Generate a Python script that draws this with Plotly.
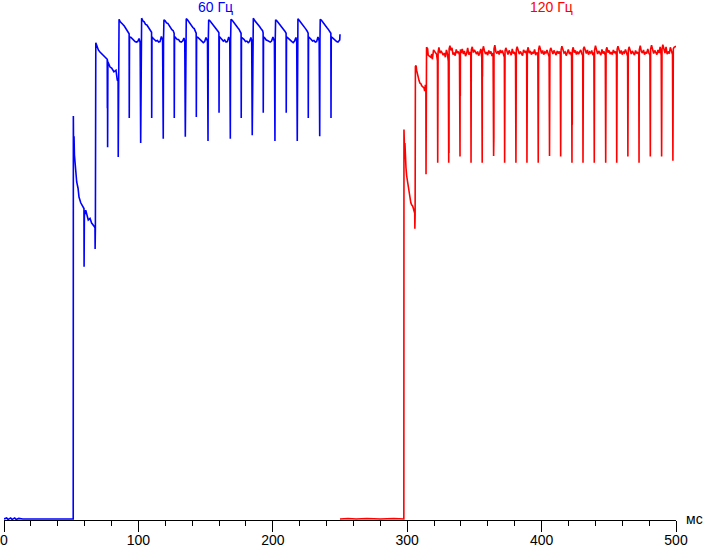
import plotly.graph_objects as go

# brightness (relative units, 0-100) vs time in ms
blue_ms = [
    0, 2, 3, 5, 6, 8, 9, 11, 14, 20, 30, 40, 51.5,
    51.6, 51.8, 52.1, 52.4, 53.3, 54.1, 55.1, 55.8, 57.1, 58.6, 59.5, 59.6, 59.8, 60.8, 62.7, 64.0, 65.2, 67.0, 67.7, 67.8, 68.0,
    68.3, 69.0, 70.2, 71.4, 73.0, 73.9, 75.7, 76.8, 76.9, 77.0, 77.1, 77.3, 78.9, 80.1, 81.8, 83.3, 84.3, 84.9, 85.0, 85.3,
    85.6, 86.5, 87.5, 88.5, 89.5, 90.5, 91.5, 92.5, 93.1, 93.2, 93.4, 94.5, 95.5, 96.5, 97.5, 98.5, 99.5, 100.5, 101.3, 101.7, 102.0,
    102.4, 103.3, 104.3, 105.3, 106.3, 107.3, 108.3, 109.3, 109.8, 109.9, 110.1, 111.1, 112.1, 113.1, 114.1, 115.1, 116.1, 117.1, 118.0, 118.5, 118.7,
    119.0, 119.9, 120.9, 121.9, 122.9, 123.9, 124.9, 125.9, 126.6, 126.7, 126.9, 127.9, 128.9, 129.9, 130.9, 131.9, 132.9, 133.9, 134.5, 134.9, 135.2,
    135.6, 136.5, 137.5, 138.5, 139.5, 140.5, 141.5, 142.5, 143.0, 143.1, 143.3, 144.3, 145.3, 146.3, 147.3, 148.3, 149.3, 150.3, 151.4, 151.8, 152.0,
    152.3, 153.2, 154.2, 155.2, 156.2, 157.2, 158.2, 159.2, 159.9, 160.0, 160.2, 161.2, 162.2, 163.2, 164.2, 165.2, 166.2, 167.2, 168.0, 168.4, 168.6,
    168.9, 169.8, 170.8, 171.8, 172.8, 173.8, 174.8, 175.8, 176.4, 176.5, 176.7, 177.7, 178.7, 179.7, 180.7, 181.7, 182.7, 183.7, 184.3, 184.7, 185.0,
    185.5, 186.4, 187.4, 188.4, 189.4, 190.4, 191.4, 192.4, 192.8, 192.9, 193.1, 194.1, 195.1, 196.1, 197.1, 198.1, 199.1, 200.1, 201.2, 201.6, 201.8,
    202.1, 203.0, 204.0, 205.0, 206.0, 207.0, 208.0, 209.0, 209.9, 210.0, 210.2, 211.2, 212.2, 213.2, 214.2, 215.2, 216.2, 217.2, 217.8, 218.2, 218.4,
    218.7, 219.6, 220.6, 221.6, 222.6, 223.6, 224.6, 225.6, 226.3, 226.4, 226.6, 227.6, 228.6, 229.6, 230.6, 231.6, 232.6, 233.6, 234.5, 234.9, 235.1,
    235.3, 236.2, 237.2, 238.2, 239.2, 240.2, 241.2, 242.2, 243.2, 243.3, 243.5, 244.5, 245.5, 246.5, 247.5, 248.5, 249.5, 249.8, 250.0,
]
blue_level = [
    0.2, 0.4, 0.1, 0.4, 0.1, 0.4, 0.1, 0.3, 0.2, 0.2, 0.2, 0.3, 0.2,
    77.7, 70.2, 73.8, 70.2, 66.9, 65.0, 63.8, 62.1, 61.0, 60.2, 59.9, 48.7, 58.5, 59.6, 57.7, 58.0, 57.1, 56.5, 56.2, 52.1, 56.0,
    91.8, 91.3, 90.4, 90.0, 89.6, 89.4, 88.8, 88.6, 79.2, 88.5, 71.7, 88.1, 87.1, 86.9, 86.2, 86.5, 84.6, 84.4, 69.8, 84.0,
    96.3, 95.8, 95.6, 95.3, 95.0, 94.6, 94.2, 93.8, 93.5, 77.3, 92.9, 92.8, 92.5, 92.3, 92.0, 91.9, 92.0, 92.6, 91.8, 72.5, 92.0,
    96.5, 96.0, 95.8, 95.3, 95.2, 94.8, 94.4, 94.1, 93.8, 77.3, 92.9, 92.6, 92.4, 92.1, 92.2, 91.9, 92.0, 93.0, 92.3, 73.3, 92.3,
    96.2, 96.0, 95.6, 95.5, 95.0, 94.8, 94.3, 94.1, 93.6, 77.3, 93.0, 92.7, 92.4, 92.4, 92.0, 91.9, 92.1, 92.7, 92.0, 73.7, 92.1,
    96.4, 96.2, 95.8, 95.4, 95.1, 94.7, 94.5, 94.0, 93.6, 77.5, 92.9, 92.8, 92.5, 92.2, 92.1, 91.8, 92.0, 92.8, 92.1, 72.9, 92.2,
    96.2, 96.0, 95.7, 95.4, 95.0, 94.6, 94.3, 94.0, 93.7, 78.3, 93.0, 92.7, 92.4, 92.1, 92.3, 91.9, 92.0, 92.9, 92.2, 73.3, 92.3,
    96.3, 96.1, 95.7, 95.5, 95.0, 94.7, 94.4, 94.0, 93.6, 77.3, 92.8, 92.6, 92.4, 92.0, 92.1, 91.8, 92.0, 92.8, 92.2, 74.0, 92.1,
    96.5, 96.1, 95.8, 95.6, 95.1, 94.8, 94.4, 94.1, 93.7, 78.3, 92.9, 92.7, 92.3, 92.2, 92.0, 91.9, 92.1, 92.9, 92.0, 72.9, 92.2,
    96.2, 96.0, 95.7, 95.4, 95.0, 94.7, 94.3, 94.0, 93.6, 78.3, 92.9, 92.7, 92.4, 92.2, 92.0, 91.8, 92.1, 92.8, 92.0, 72.9, 92.2,
    96.4, 96.1, 95.8, 95.5, 95.1, 94.8, 94.4, 94.0, 93.6, 77.3, 92.9, 92.7, 92.4, 92.1, 92.2, 91.9, 92.0, 92.9, 92.1, 73.8, 92.2,
    96.3, 96.1, 95.7, 95.4, 95.1, 94.7, 94.4, 94.0, 93.6, 77.3, 92.9, 92.7, 92.4, 92.2, 92.0, 91.9, 92.1, 92.3, 93.4,
]

red_ms = [
    250, 256, 262, 270, 280, 290, 297.5,
    297.6, 297.9, 298.3, 298.6, 299.1, 299.6, 300.1, 300.6, 301.1, 301.6, 302.1, 302.7, 303.3, 304.0, 304.5, 305.2, 305.6, 305.7, 305.9,
    306.1, 306.6, 307.0, 307.6, 308.2, 308.8, 309.5, 310.2, 310.8, 311.6, 312.5, 313.0, 313.5, 313.9, 314.0, 314.2,
    314.4, 315.2, 315.6, 316.5, 317.5, 318.3, 318.7, 319.6, 320.3, 321.0, 321.8, 322.5, 322.7, 322.8, 322.9, 323.0,
    323.6, 324.4, 325.2, 326.0, 326.8, 327.6, 328.4, 329.2, 329.9, 330.6, 330.9, 331.0, 331.1, 331.2,
    331.8, 332.5, 333.3, 334.1, 334.9, 335.7, 336.5, 337.3, 338.1, 338.9, 339.3, 339.4, 339.5, 339.6,
    340.2, 341.0, 341.8, 342.6, 343.4, 344.2, 345.0, 345.8, 346.6, 347.3, 347.5, 347.7,
    348.4, 349.2, 350.0, 350.8, 351.6, 352.4, 353.2, 354.0, 354.8, 355.5, 355.8, 355.9, 356.0, 356.1,
    356.7, 357.5, 358.3, 359.1, 359.9, 360.7, 361.5, 362.3, 363.1, 363.9, 364.3, 364.4, 364.5, 364.6,
    365.2, 366.0, 366.8, 367.6, 368.4, 369.2, 370.0, 370.8, 371.6, 372.3, 372.5, 372.6, 372.7, 372.8,
    373.4, 374.2, 375.0, 375.8, 376.6, 377.4, 378.2, 379.0, 379.8, 380.6, 380.9, 381.0, 381.1, 381.2,
    381.8, 382.6, 383.4, 384.2, 385.0, 385.8, 386.6, 387.4, 388.2, 388.9, 389.1, 389.2, 389.3, 389.4,
    390.0, 390.8, 391.6, 392.4, 393.2, 394.0, 394.8, 395.6, 396.4, 397.2, 397.5, 397.6, 397.7, 397.8,
    398.4, 399.2, 400.0, 400.8, 401.6, 402.4, 403.2, 404.0, 404.8, 405.6, 405.9, 406.0, 406.1, 406.2,
    406.8, 407.6, 408.4, 409.2, 410.0, 410.8, 411.6, 412.4, 413.2, 413.9, 414.2, 414.3, 414.4, 414.5,
    415.1, 415.9, 416.7, 417.5, 418.3, 419.1, 419.9, 420.7, 421.5, 422.3, 422.6, 422.7, 422.8, 422.9,
    423.5, 424.3, 425.1, 425.9, 426.7, 427.5, 428.3, 429.1, 429.9, 430.6, 430.8, 430.9, 431.0, 431.1,
    431.7, 432.5, 433.3, 434.1, 434.9, 435.7, 436.5, 437.3, 438.1, 438.9, 439.2, 439.4,
    440.1, 440.9, 441.7, 442.5, 443.3, 444.1, 444.9, 445.7, 446.5, 447.4, 447.7, 447.8, 447.9, 448.0,
    448.6, 449.4, 450.2, 451.0, 451.8, 452.6, 453.4, 454.2, 455.0, 455.7, 455.9, 456.0, 456.1, 456.2,
    456.8, 457.6, 458.4, 459.2, 460.0, 460.8, 461.6, 462.4, 463.2, 464.0, 464.2, 464.3, 464.4, 464.5,
    465.1, 465.9, 466.7, 467.5, 468.3, 469.1, 469.9, 470.7, 471.5, 472.3, 472.5, 472.7,
    473.4, 474.2, 475.0, 475.8, 476.6, 477.4, 478.2, 479.0, 479.8, 480.6, 480.9, 481.1,
    481.8, 482.6, 483.4, 484.2, 485.0, 485.8, 486.6, 487.4, 488.2, 489.0, 489.3, 489.4, 489.5, 489.6,
    490.2, 491.0, 491.8, 492.6, 493.4, 494.2, 495.0, 495.8, 496.6, 497.4, 497.7, 497.8, 497.9, 498.0,
    498.6, 499.3, 500.0,
]
red_level = [
    0.2, 0.3, 0.2, 0.3, 0.2, 0.3, 0.2,
    75.1, 72.1, 72.5, 68.5, 67.7, 66.2, 65.4, 64.6, 63.5, 62.3, 61.5, 61.0, 60.6, 60.4, 60.0, 59.4, 59.0, 56.0, 58.8,
    87.2, 87.4, 86.5, 85.8, 84.6, 84.5, 84.0, 83.9, 83.5, 83.2, 83.1, 82.5, 83.7, 82.8, 66.5, 82.8,
    90.9, 90.6, 89.4, 89.2, 89.0, 89.6, 88.6, 90.4, 90.2, 89.8, 89.6, 88.3, 68.7, 89.5, 79.5, 90.0,
    90.9, 89.8, 90.2, 89.6, 89.4, 89.8, 89.0, 90.4, 89.7, 88.2, 68.7, 89.6, 70.6, 90.6,
    91.2, 90.3, 90.8, 89.5, 89.9, 89.3, 90.5, 89.8, 90.1, 89.4, 69.9, 89.8, 81.6, 90.5,
    89.8, 90.6, 89.6, 90.2, 89.2, 89.7, 90.8, 89.5, 90.0, 89.3, 68.7, 90.4,
    91.0, 89.9, 90.4, 89.8, 89.6, 90.1, 89.3, 89.9, 90.6, 88.9, 68.7, 89.7, 85.3, 90.3,
    91.1, 90.2, 89.6, 90.0, 89.4, 90.3, 89.7, 90.1, 89.2, 89.8, 70.0, 89.6, 73.7, 90.6,
    91.3, 90.0, 89.7, 90.2, 89.5, 90.4, 89.8, 90.3, 89.6, 89.0, 68.7, 89.5, 70.2, 90.2,
    90.8, 90.1, 89.5, 90.3, 89.9, 89.4, 90.6, 89.7, 90.0, 89.2, 68.7, 89.6, 79.0, 90.4,
    91.0, 90.3, 89.6, 90.1, 89.8, 89.3, 90.4, 89.9, 90.2, 89.5, 68.7, 89.7, 87.2, 90.3,
    90.9, 89.8, 90.2, 89.5, 90.0, 89.7, 90.5, 89.4, 89.9, 89.6, 68.7, 89.5, 87.2, 90.5,
    91.2, 90.1, 89.7, 90.3, 89.5, 90.0, 89.8, 90.4, 89.6, 89.1, 70.0, 89.6, 76.3, 90.2,
    90.8, 90.0, 89.6, 90.3, 89.9, 89.4, 90.2, 89.7, 90.1, 89.5, 69.9, 89.6, 71.8, 90.4,
    91.1, 90.2, 89.8, 90.0, 89.3, 89.9, 90.5, 89.6, 90.0, 89.2, 68.7, 89.5, 76.0, 90.3,
    90.9, 89.9, 90.3, 89.5, 90.1, 89.6, 89.9, 90.4, 89.7, 89.3, 68.7, 89.6, 86.2, 90.6,
    91.0, 90.0, 89.7, 90.4, 89.5, 90.0, 89.8, 90.3, 89.4, 89.9, 68.7, 90.3,
    91.2, 90.1, 89.6, 90.2, 89.8, 89.4, 90.5, 89.7, 90.1, 89.3, 68.7, 89.6, 79.3, 90.4,
    90.9, 89.9, 90.3, 89.6, 90.0, 89.5, 90.4, 89.8, 90.1, 89.4, 68.7, 89.6, 70.4, 90.5,
    91.1, 90.2, 89.7, 90.3, 89.5, 90.0, 89.8, 90.5, 89.6, 89.2, 69.9, 89.5, 81.2, 90.3,
    91.0, 90.0, 89.6, 90.2, 89.9, 89.4, 90.3, 89.7, 90.0, 89.5, 68.7, 90.4,
    91.2, 90.1, 89.8, 90.4, 89.5, 90.0, 89.7, 90.6, 89.8, 89.4, 69.9, 90.5,
    91.3, 90.2, 89.7, 90.3, 89.9, 89.5, 90.4, 89.8, 91.0, 89.3, 69.9, 89.6, 73.7, 90.6,
    91.4, 90.3, 89.8, 91.0, 89.6, 90.1, 89.7, 90.9, 90.2, 89.5, 69.1, 89.6, 70.6, 90.6,
    90.9, 91.0, 91.1,
]

assert len(blue_ms) == len(blue_level)
assert len(red_ms) == len(red_level)

tick_ms = [0, 100, 200, 300, 400, 500]
series_labels = ["60 Гц", "120 Гц"]
label_ms = [157.7, 407.3]
unit_label = "мс"

FONT = "Liberation Sans, Arial, sans-serif"

fig = go.Figure()
fig.add_trace(go.Scatter(x=blue_ms, y=blue_level, mode="lines",
                         line=dict(color="#0000ff", width=1.6), name=series_labels[0]))
fig.add_trace(go.Scatter(x=red_ms, y=red_level, mode="lines",
                         line=dict(color="#ff0000", width=1.6), name=series_labels[1]))

for text, x, color in zip(series_labels, label_ms, ["#0000ff", "#ff0000"]):
    fig.add_annotation(x=x, y=98.6, xref="x", yref="y", text=text, showarrow=False,
                       xanchor="center", yanchor="middle",
                       font=dict(family=FONT, size=14, color=color))

fig.add_annotation(x=1, y=0, xref="paper", yref="y", text=unit_label, showarrow=False,
                   xanchor="left", yanchor="middle", xshift=8, yshift=1,
                   font=dict(family=FONT, size=14, color="black"))

fig.update_layout(
    width=703, height=548,
    margin=dict(l=4, r=27, t=0, b=28, autoexpand=False),
    paper_bgcolor="white", plot_bgcolor="white",
    showlegend=False,
    font=dict(family=FONT, size=14, color="black"),
    xaxis=dict(
        range=[0, 500], tickvals=tick_ms, showgrid=False, zeroline=False,
        showline=True, linecolor="black", linewidth=1, layer="below traces",
        ticks="outside", ticklen=11, tickwidth=1, tickcolor="black",
        ticklabelstandoff=-4,
        tickfont=dict(family=FONT, size=14, color="black"),
        minor=dict(dtick=20, ticks="outside", ticklen=5, tickwidth=1, tickcolor="black"),
        automargin=False, fixedrange=True,
    ),
    yaxis=dict(range=[0, 100], visible=False, automargin=False, fixedrange=True),
)

# the page body has a default 8px margin; drop it so the figure fills the window
fig.write_html("out.html", config={"displayModeBar": False},
               post_script="document.body.style.margin='0';")
